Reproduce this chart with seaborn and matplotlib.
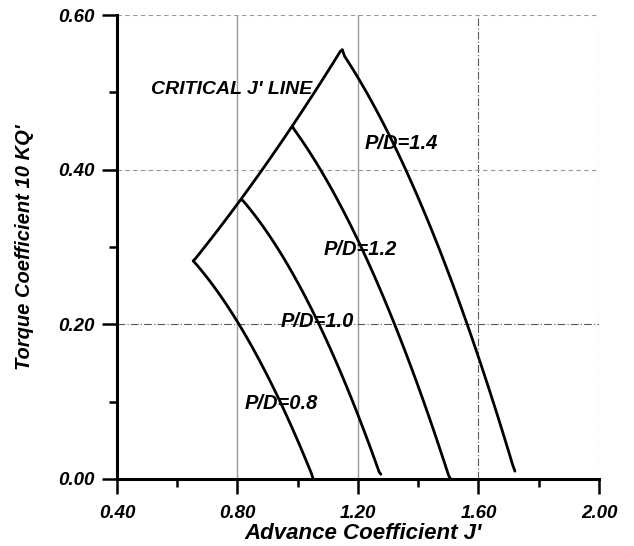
import numpy as np
import pandas as pd
import matplotlib
matplotlib.use("Agg")
import matplotlib.pyplot as plt
from matplotlib.ticker import MultipleLocator, FormatStrFormatter
import seaborn as sns

# ---- data ----
crit_J = [0.653, 0.812, 0.884, 0.982, 1.062, 1.148]
crit_K = [0.282, 0.361, 0.400, 0.456, 0.508, 0.555]

pd08_J = [0.653, 0.710, 0.804, 0.868, 0.951, 1.051]
pd08_K = [0.282, 0.256, 0.200, 0.153, 0.097, 0.000]

pd10_J = [0.812, 0.923, 0.998, 1.071, 1.126, 1.201, 1.276]
pd10_K = [0.361, 0.307, 0.256, 0.200, 0.153, 0.076, 0.006]

pd12_J = [0.982, 1.073, 1.133, 1.207, 1.262, 1.321, 1.370, 1.434, 1.507]
pd12_K = [0.456, 0.400, 0.358, 0.307, 0.256, 0.200, 0.153, 0.076, 0.000]

pd14_J = [1.148, 1.212, 1.277, 1.362, 1.402, 1.462, 1.512, 1.564, 1.607, 1.662, 1.721]
pd14_K = [0.555, 0.508, 0.461, 0.400, 0.358, 0.307, 0.256, 0.200, 0.153, 0.076, 0.010]

labels = ["CRITICAL J' LINE", "P/D=0.8", "P/D=1.0", "P/D=1.2", "P/D=1.4"]
label_J = [0.512, 0.823, 0.942, 1.087, 1.223]
label_K = [0.498, 0.090, 0.196, 0.289, 0.427]

x_ticks = [0.40, 0.80, 1.20, 1.60, 2.00]
y_ticks = [0.00, 0.20, 0.40, 0.60]
x_label = "Advance Coefficient J'"
y_label = "Torque Coefficient 10 KQ'"

curves = {
    "critical": (crit_J, crit_K),
    "0.8": (pd08_J, pd08_K),
    "1.0": (pd10_J, pd10_K),
    "1.2": (pd12_J, pd12_K),
    "1.4": (pd14_J, pd14_K),
}

# smooth rendering of each read curve (quadratic least-squares through the read points)
frames = []
for name, (j, k) in curves.items():
    j = np.asarray(j)
    k = np.asarray(k)
    coef = np.polyfit(j, k, 2)
    jj = np.linspace(j[0], j[-1], 80)
    kk = np.polyval(coef, jj)
    kk[0], kk[-1] = k[0], k[-1]
    frames.append(pd.DataFrame({"J": jj, "K": kk, "curve": name}))
df = pd.concat(frames, ignore_index=True)

sns.set_style("white")
plt.rcParams["font.family"] = ["Liberation Sans", "DejaVu Sans"]
plt.rcParams["font.weight"] = "bold"
plt.rcParams["font.style"] = "italic"
plt.rcParams["axes.labelweight"] = "bold"

fig = plt.figure(figsize=(6.34, 5.46), dpi=100)
ax = fig.add_axes([0.1845, 0.1229, 0.7603, 0.8496])

sns.lineplot(
    data=df, x="J", y="K", hue="curve",
    palette={name: "black" for name in curves},
    sort=False, estimator=None, legend=False, lw=2.0, ax=ax,
)

ax.set_xlim(x_ticks[0], x_ticks[-1])
ax.set_ylim(y_ticks[0], y_ticks[-1])
ax.xaxis.set_major_locator(MultipleLocator(0.4))
ax.xaxis.set_minor_locator(MultipleLocator(0.2))
ax.yaxis.set_major_locator(MultipleLocator(0.2))
ax.yaxis.set_minor_locator(MultipleLocator(0.1))
ax.xaxis.set_major_formatter(FormatStrFormatter("%.2f"))
ax.yaxis.set_major_formatter(FormatStrFormatter("%.2f"))

for s in ["top", "right"]:
    ax.spines[s].set_visible(False)
for s in ["left", "bottom"]:
    ax.spines[s].set_linewidth(2.2)
    ax.spines[s].set_color("black")

ax.set_axisbelow(True)
ax.grid(True, which="major", color="0.35", ls=(0, (7, 2, 1, 2)), lw=0.8)
for gl, v in zip(ax.get_xgridlines(), ax.get_xticks()):
    if abs(v - 0.8) < 1e-6 or abs(v - 1.2) < 1e-6:
        gl.set_linestyle("-")
        gl.set_color("0.6")
        gl.set_linewidth(1.0)
    if abs(v - 2.0) < 1e-6:
        gl.set_linestyle((0, (4, 3)))
        gl.set_color("0.5")
for gl, v in zip(ax.get_ygridlines(), ax.get_yticks()):
    if abs(v - 0.4) < 1e-6 or abs(v - 0.6) < 1e-6:
        gl.set_color("0.6")
        gl.set_linestyle((0, (4, 3)))

ax.tick_params(axis="both", which="both", bottom=True, left=True, top=False, right=False)
ax.tick_params(axis="both", which="major", direction="out", length=11, width=1.8,
               color="black", labelsize=13.5, labelcolor="black")
ax.tick_params(axis="both", which="minor", direction="out", length=6, width=1.8,
               color="black")
ax.tick_params(axis="x", which="major", pad=8)
ax.tick_params(axis="y", which="major", pad=5)

ax.set_xlabel(x_label, fontsize=16, fontweight="bold", color="black")
ax.set_ylabel(y_label, fontsize=14.5, fontweight="bold", color="black")
ax.xaxis.set_label_coords(0.511, -0.0955)
ax.yaxis.set_label_coords(-0.172, 0.50)

for txt, j, k in zip(labels, label_J, label_K):
    ax.text(j, k, txt, fontsize=14 if txt.startswith("CRIT") else 14.5,
            ha="left", va="baseline", color="black")

fig.savefig("out.png", dpi=100)
